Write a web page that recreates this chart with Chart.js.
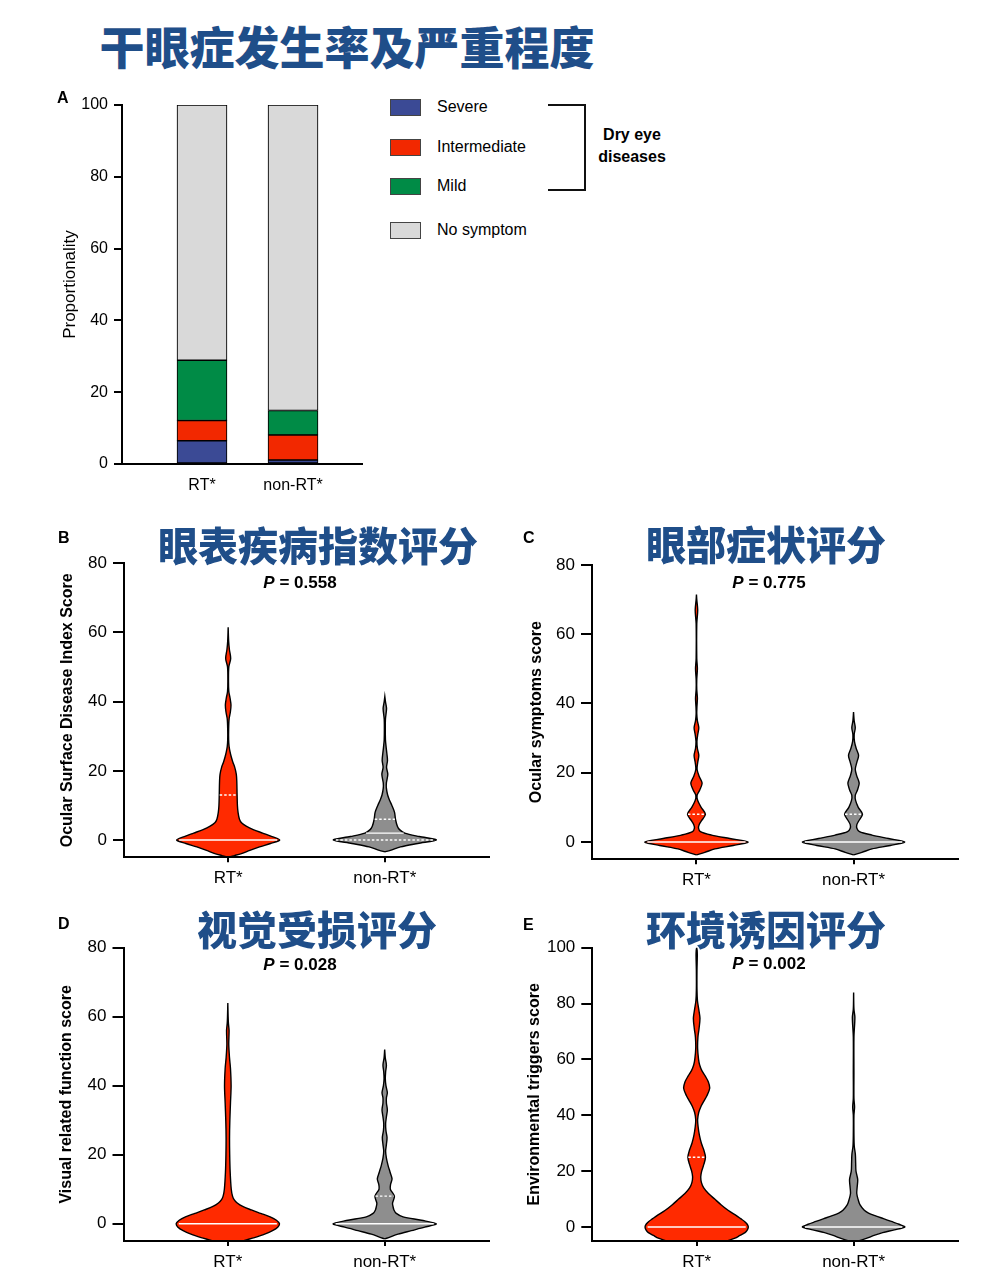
<!DOCTYPE html>
<html><head><meta charset="utf-8">
<script src="https://cdn.jsdelivr.net/npm/chart.js@4"></script>
<style>
body{margin:0;background:#fff;width:1006px;height:1288px;position:relative;overflow:hidden;font-family:"Liberation Sans",Arial,sans-serif;color:#000;}
canvas{position:absolute;}
.cn{position:absolute;font-family:"Noto Sans CJK SC","Noto Sans CJK TC",sans-serif;font-weight:900;color:#1f4e89;white-space:nowrap;transform:translate(-50%,-50%);line-height:1;}
.pv{position:absolute;font-weight:700;font-size:17px;transform:translate(-50%,-50%);white-space:nowrap;line-height:1;}
.lt{position:absolute;font-weight:700;font-size:16px;line-height:1;transform:translateY(-50%);}
.lgbox{position:absolute;width:29px;height:15px;border:1px solid #444;}
.lgtxt{position:absolute;font-size:16px;line-height:1;transform:translateY(-50%);white-space:nowrap;}
</style></head><body>
<canvas id="cA" width="340" height="430" style="left:40px;top:85px"></canvas>
<canvas id="cB" width="460" height="353" style="left:40px;top:540px"></canvas>
<canvas id="cC" width="470" height="353" style="left:500px;top:540px"></canvas>
<canvas id="cD" width="460" height="360" style="left:40px;top:925px"></canvas>
<canvas id="cE" width="470" height="360" style="left:500px;top:925px"></canvas>
<div id="overlay"></div>
<script>
// ---------- DATA ----------
const groups = ['RT*', 'non-RT*'];
const barSeries = ['Severe', 'Intermediate', 'Mild', 'No symptom'];
const severeVals = [6.5, 1.1];
const intermediateVals = [5.6, 7.0];
const mildVals = [16.8, 6.8];
const noSymptomVals = [71.1, 85.1];
const barTicks = [0, 20, 40, 60, 80, 100];
const scoreTicks80 = [0, 20, 40, 60, 80];
const scoreTicks100 = [0, 20, 40, 60, 80, 100];

const mainTitle = '干眼症发生率及严重程度';
const panelTitles = ['眼表疾病指数评分', '眼部症状评分', '视觉受损评分', '环境诱因评分'];
const yTitles = ['Ocular Surface Disease Index Score', 'Ocular symptoms score', 'Visual related function score', 'Environmental triggers score'];
const pValues = ['0.558', '0.775', '0.028', '0.002'];

// violin profiles: [score, half-width in % of group spacing]
const osdiRT = [[-5,0],[-4.5,4],[-4,8],[-3,13.8],[-2,20],[-1,27],[0,32.9],[1,28],[2,22],[3,16],[4,11.5],[5,8.5],[6,7.2],[8,6.3],[10,5.9],[13,5.7],[17,5.5],[19,5.2],[21,4.2],[22.5,3],[24,2],[25.5,1.2],[27,0.6],[29,0.3],[32,0.3],[35,0.6],[37,1.4],[39,1.8],[41,1.2],[43,0.4],[46,0.2],[50,0.4],[52.5,1.6],[55,0.8],[57.5,0.3],[61.5,0]];
const osdiNon = [[-3.4,0],[-3,3.5],[-2,10],[-1,21],[0,32.9],[1,22],[2,12.7],[3,9.4],[4,8],[6,6.8],[8,6.2],[10,4.5],[11.5,3],[13,1.8],[15,1],[16.5,1],[19,1.9],[21,1.1],[23,1.7],[25,1.3],[27,0.8],[29,0.4],[32,0.3],[35,0.4],[38,1.1],[40,0.4],[41.5,0]];
const osRT = [[-3.7,0],[-3,5.3],[-2,11.7],[-1,23.4],[0,32.9],[1,21.2],[2,9.6],[3,2.5],[4,1.3],[5,1.7],[6,3],[8,5.7],[10,3],[12,0.8],[13.5,0.4],[15,2.1],[17,3.6],[19,1.7],[21,0.4],[23,0.8],[25,1.5],[27,0.6],[29,0.3],[31,0.8],[33,1.5],[35,0.6],[37,0.2],[39,0.3],[41.5,0.6],[44,0.2],[47,0.2],[50,0.6],[53,0.2],[63,0.2],[67,0.8],[70,0.2],[71.5,0]];
const osNon = [[-3.7,0],[-3,5.3],[-2,11.7],[-1,23.4],[0,32.6],[1,22.3],[2,11.7],[3,3.8],[4,2.1],[5,2.1],[6,3.2],[8,5.7],[10,3],[12,1.3],[13.5,1.1],[15,2.5],[17,3.6],[19,2.1],[21,1.1],[23,2.1],[25,3.2],[27,1.7],[29,0.6],[31,0.4],[33,1.1],[35,0.4],[37.5,0]];
const vfRT = [[-6.5,0],[-6,4],[-5,9.6],[-4,17],[-3,23.5],[-2,28.5],[-1,31.8],[0,32.9],[1,31],[2,27],[3,21],[4,15],[5,9.5],[6,6],[7,4],[8,3],[10,2.2],[15,1.5],[20,1.2],[25,1.1],[30,1.3],[35,1.7],[40,2.1],[45,1.7],[48,1.1],[52,0.6],[56,0.8],[58,0.4],[60,0.2],[64,0]];
const vfNon = [[-4.4,0],[-4,2.5],[-3,8.5],[-2,17],[-1,25.5],[0,32.9],[1,23.4],[2,11.7],[3,7.4],[4,5.9],[5,5.3],[6,5],[8,6.2],[10,3.6],[11.5,3.8],[13,4.7],[15,3.4],[17,2.1],[19,1.1],[21,0.6],[23,1.1],[25,1.5],[27,0.8],[29,0.6],[31,1.1],[33,1.7],[35,1.1],[36.5,1.1],[38,1.7],[40,0.8],[42,0.4],[44,0.6],[46,1.1],[48,0.4],[50.5,0]];
const etRT = [[-8,0],[-7,8],[-6,14],[-5,19.1],[-4,24.4],[-3,27.6],[-2,30.8],[-1,32.3],[0,32.9],[1,32.2],[2,30.5],[3,28],[4,25.5],[6,20],[8,15.5],[10,11.5],[12,7.5],[14,4.5],[16,3],[18,2.6],[20,3.2],[22.5,4.6],[25,5.6],[27.5,4.6],[30,3],[33,1.7],[36,0.9],[38.4,0.6],[41,1.3],[43,2.6],[45,4.5],[47,6.5],[49.7,8.3],[52,7.4],[54,5.5],[56,3.3],[58,1.9],[60,1.2],[64,0.6],[68,0.8],[71,1.5],[74.7,2.1],[78,1.3],[81,0.5],[85,0.2],[92,0.2],[97,0.4],[99,0.3],[100,0]];
const etNon = [[-6,0],[-5,3],[-4,8.5],[-3,13],[-2,18.5],[-1,26],[0,32.6],[1,29],[2,24],[3,19],[4,14],[5,9.5],[6,6.8],[8,4],[10,2.8],[12,2],[14,2.2],[17,2.6],[20,1.5],[23,1.3],[26,1.1],[29,0.4],[33,0.2],[40,0.2],[43,0.6],[46,0.2],[55,0.2],[68,0.2],[75,0.8],[78,0.2],[84,0]];

// [lower quartile, median, upper quartile]
const osdiRTQ = [0, 0, 13], osdiNonQ = [0, 2, 6];
const osRTQ = [0, 0, 8], osNonQ = [0, 0, 8];
const vfRTQ = [0, 0, 0], vfNonQ = [0, 0, 8];
const etRTQ = [0, 0, 25], etNonQ = [0, 0, 0];

// ---------- STYLE ----------
const FAM = '"Liberation Sans", Arial, sans-serif';
Chart.defaults.font.family = FAM;
Chart.defaults.color = '#000';
const barColors = ['#3b4a95', '#f22800', '#008b46', '#d9d9d9'];
const violinColors = ['#ff2a00', '#8e8e8e'];

// ---------- PANEL A ----------
const barVals = [severeVals, intermediateVals, mildVals, noSymptomVals];
new Chart(document.getElementById('cA'), {
  type: 'bar',
  data: {
    datasets: barSeries.map((name, si) => ({
      label: name,
      data: barVals[si].map((v, gi) => ({x: gi + 1, y: v})),
      backgroundColor: barColors[si],
      borderColor: '#000',
      borderWidth: 1.1,
      borderSkipped: false,
      barThickness: 50
    }))
  },
  options: {
    responsive: false, animation: false, events: [],
    layout: {padding: {left: 0, top: 20, right: 18, bottom: 0}},
    plugins: {legend: {display: false}, tooltip: {enabled: false}},
    scales: {
      x: {
        type: 'linear', stacked: true, min: 0.121, max: 2.758, offset: false, bounds: 'ticks',
        afterBuildTicks: s => { s.ticks = groups.map((g, i) => ({value: i + 1})); },
        afterDataLimits: s => { s.min = 0.121; s.max = 2.758; },
        afterFit: s => { s.height = 51; },
        ticks: {callback: v => groups[Math.round(v) - 1] || '', font: {size: 16}, color: '#000', padding: 12, autoSkip: false, maxRotation: 0},
        grid: {display: true, drawOnChartArea: false, drawTicks: false, offset: false},
        border: {display: true, color: '#000', width: 2, z: 1}
      },
      y: {
        stacked: true, min: 0, max: 100,
        afterBuildTicks: s => { s.ticks = barTicks.map(v => ({value: v})); },
        afterFit: s => { s.width = 82; },
        ticks: {font: {size: 16}, color: '#000', padding: 6},
        grid: {drawOnChartArea: false, tickLength: 8, color: '#000', lineWidth: 2},
        border: {display: true, color: '#000', width: 2, z: 1},
        title: {display: true, text: 'Proportionality', font: {size: 17}, color: '#000', padding: {top: 19.8, bottom: 0}}
      }
    }
  }
});

// ---------- VIOLINS ----------
function widthAt(prof, y) {
  for (let i = 0; i < prof.length - 1; i++) {
    const [y0, w0] = prof[i], [y1, w1] = prof[i + 1];
    if (y >= y0 && y <= y1) return w0 + (w1 - w0) * (y - y0) / (y1 - y0);
  }
  return 0;
}
function hline(c, prof, v, dashed) {
  const w = widthAt(prof, v) / 100 * 0.95;
  return {
    data: [{x: c - w, y: v}, {x: c + w, y: v}],
    borderColor: '#ffffff',
    borderWidth: 1.4, borderDash: dashed ? [2.5, 2] : [0],
    pointRadius: 0, fill: false, tension: 0,
    order: dashed ? 1 : 0
  };
}
function violinChart(id, cfg) {
  const datasets = [];
  cfg.profiles.forEach((prof, gi) => {
    const c = gi + 1;
    const right = prof.map(([y, w]) => ({x: c + w / 100, y}));
    const left = prof.slice().reverse().map(([y, w]) => ({x: c - w / 100, y}));
    datasets.push({
      data: right.concat(left), fill: 'shape',
      backgroundColor: violinColors[gi], borderColor: '#000', borderWidth: 1.4,
      tension: 0.3, pointRadius: 0, order: 5
    });
    const q = cfg.quartiles[gi];
    if (q[0] !== q[1]) datasets.push(hline(c, prof, q[0], true));
    if (q[2] !== q[1]) datasets.push(hline(c, prof, q[2], true));
    datasets.push(hline(c, prof, q[1], false));
  });
  new Chart(document.getElementById(id), {
    type: 'line',
    data: {datasets},
    options: {
      responsive: false, animation: false, events: [],
      layout: {padding: {left: 0, top: cfg.top, right: cfg.right, bottom: 0}},
      plugins: {legend: {display: false}, tooltip: {enabled: false}},
      scales: {
        x: {
          type: 'linear', min: 0.335, max: 2.665,
          afterBuildTicks: s => { s.ticks = groups.map((g, i) => ({value: i + 1})); },
          afterFit: s => { s.height = cfg.xH; },
          ticks: {callback: v => groups[Math.round(v) - 1] || '', font: {size: 17}, color: '#000', padding: 6, autoSkip: false, maxRotation: 0},
          grid: {drawOnChartArea: false, drawTicks: true, tickLength: 5, color: '#000', lineWidth: 2},
          border: {display: true, color: '#000', width: 2, z: 1}
        },
        y: {
          type: 'linear', min: -5, max: cfg.ymax,
          afterBuildTicks: s => { s.ticks = cfg.ticks.map(v => ({value: v})); },
          afterFit: s => { s.width = cfg.yW; },
          ticks: {font: {size: 17}, color: '#000', padding: 6},
          grid: {drawOnChartArea: false, tickLength: 11, color: '#000', lineWidth: 2},
          border: {display: true, color: '#000', width: 2, z: 1},
          title: {display: true, text: cfg.ytitle, font: {size: 16, weight: 'bold'}, color: '#000', padding: {top: cfg.tPad, bottom: 0}}
        }
      }
    }
  });
}
violinChart('cB', {profiles: [osdiRT, osdiNon], quartiles: [osdiRTQ, osdiNonQ], ymax: 80, ticks: scoreTicks80, ytitle: yTitles[0], top: 23.3, right: 11, xH: 35.7, yW: 84, tPad: 18.4});
violinChart('cC', {profiles: [osRT, osNon], quartiles: [osRTQ, osNonQ], ymax: 80, ticks: scoreTicks80, ytitle: yTitles[1], top: 25, right: 12, xH: 33.7, yW: 92, tPad: 27.4});
violinChart('cD', {profiles: [vfRT, vfNon], quartiles: [vfRTQ, vfNonQ], ymax: 80, ticks: scoreTicks80, ytitle: yTitles[2], top: 22.7, right: 11, xH: 44, yW: 83.5, tPad: 17.4});
violinChart('cE', {profiles: [etRT, etNon], quartiles: [etRTQ, etNonQ], ymax: 100, ticks: scoreTicks100, ytitle: yTitles[3], top: 22.7, right: 12, xH: 44, yW: 92.3, tPad: 25.4});

// ---------- TEXT OVERLAYS ----------
const ov = document.getElementById('overlay');
function add(html, cls, style) {
  const d = document.createElement('div');
  d.className = cls; d.innerHTML = html; d.setAttribute('style', style); ov.appendChild(d);
}
add(mainTitle, 'cn', 'left:347px;top:45px;font-size:45px;');
const titlePos = [[318, 544], [766, 543], [317, 928], [766, 928]];
panelTitles.forEach((t, i) => add(t, 'cn', `left:${titlePos[i][0]}px;top:${titlePos[i][1]}px;font-size:40px;`));
const pPos = [[300, 582], [769, 582], [300, 964], [769, 963]];
pValues.forEach((p, i) => add(`<i>P</i> = ${p}`, 'pv', `left:${pPos[i][0]}px;top:${pPos[i][1]}px;`));
const letters = [['A', 57, 98], ['B', 58, 538], ['C', 523, 538], ['D', 58, 924], ['E', 523, 925]];
letters.forEach(([l, x, y]) => add(l, 'lt', `left:${x}px;top:${y}px;`));
const legY = [107, 147, 186, 230];
barSeries.forEach((name, i) => {
  add('', 'lgbox', `left:390px;top:${legY[i] - 8.5}px;background:${barColors[i]};`);
  add(name, 'lgtxt', `left:437px;top:${legY[i]}px;`);
});
add('', 'bracket', 'position:absolute;left:548px;top:104px;width:36px;height:83px;border-top:2px solid #111;border-right:2px solid #111;border-bottom:2px solid #111;');
add('Dry eye<br>diseases', 'dry', 'position:absolute;left:632px;top:146px;transform:translate(-50%,-50%);text-align:center;font-weight:700;font-size:16px;line-height:22px;');
</script>
</body></html>
